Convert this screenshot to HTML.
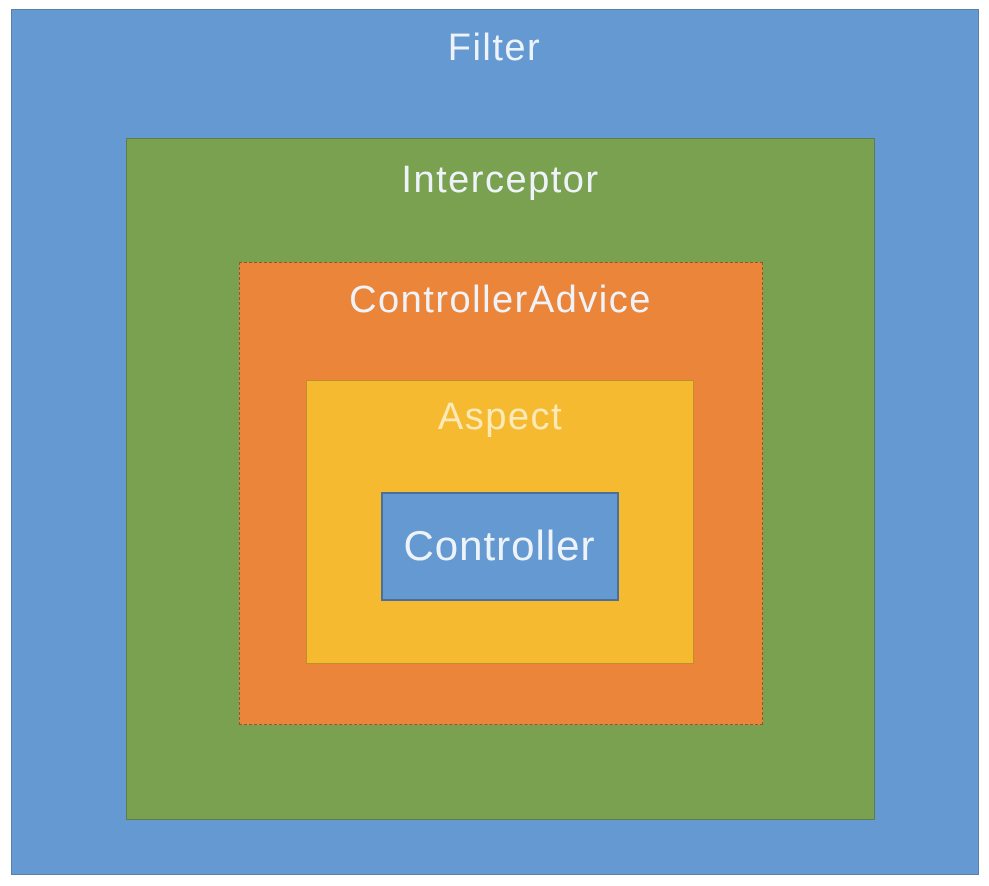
<!DOCTYPE html>
<html><head><style>
body{margin:0;width:989px;height:886px;background:#fff;position:relative;overflow:hidden;font-family:"Liberation Sans","DejaVu Sans",sans-serif}
div.b{position:absolute;box-sizing:border-box}
.t{position:absolute;left:0;width:100%;text-align:center;color:#eef3fa;font-size:38px;line-height:40px;letter-spacing:1.5px}
</style></head><body>
<div class="b" style="left:11px;top:9px;width:968px;height:866px;background:#6499d2;border:1px solid #5a7fa8"></div>
<div class="b" style="left:126px;top:138px;width:749px;height:682px;background:#79a150;border:1px solid #5f7c4e"></div>
<div class="b" style="left:239px;top:262px;width:524px;height:463px;background:#ea8539;border:1.5px dashed #8a5a30"></div>
<div class="b" style="left:306px;top:380px;width:388px;height:284px;background:#f5ba30;border:1px solid #c08f2a"></div>
<div class="b" style="left:381px;top:492px;width:238px;height:109px;background:#6499d2;border:2px solid #4a6f98"></div>
<div class="t" style="top:28px;left:0;width:989px">Filter</div>
<div class="t" style="top:160px;left:0;width:1001px">Interceptor</div>
<div class="t" style="top:280px;left:0;width:1001px">ControllerAdvice</div>
<div class="t" style="top:397px;left:0;width:1001px;color:#fbe9b8">Aspect</div>
<div class="t" style="top:526px;left:0;width:999px;font-size:42px;letter-spacing:1px">Controller</div>
</body></html>
